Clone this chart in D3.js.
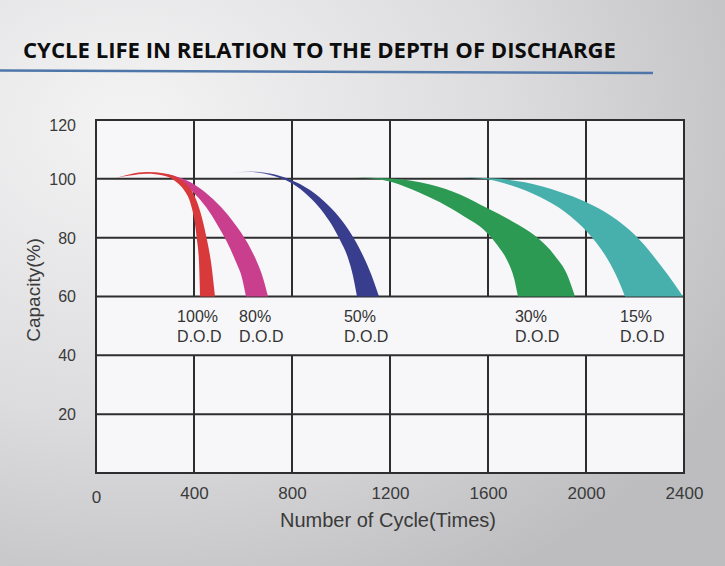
<!DOCTYPE html>
<html>
<head>
<meta charset="utf-8">
<script src="https://cdn.jsdelivr.net/npm/d3@7"></script>
<style>
  html, body { margin: 0; padding: 0; background: #e6e6e8; }
  svg { display: block; }
</style>
</head>
<body>
<svg id="chart" width="725" height="566"></svg>
<script>
// ---------- data ----------
const titleText = "CYCLE LIFE IN RELATION TO THE DEPTH OF DISCHARGE";
const xTitle = "Number of Cycle(Times)";
const yTitle = "Capacity(%)";
const cycleTicks = [0, 400, 800, 1200, 1600, 2000, 2400];
const capacityTicks = [20, 40, 60, 80, 100, 120];
const gridCapacity = [0, 20, 40, 60, 80, 100, 120];

const dodNames = ["100%", "80%", "50%", "30%", "15%"];
const dodLabelCycle = [331, 584, 1012, 1710, 2139];

// [cycles, capacity %] — outer (upper/right) and inner (lower/left) edges of each band
const dod100Outer = [[81.6,100.3],[138.8,101.6],[208.2,102.3],[281.6,101.8],[342.9,99.9],[383.7,96.9],[412.2,92.2],[432.7,86.7],[453.1,79.2],[469.4,71.7],[485.7,60]];
const dod100Inner = [[81.6,100.3],[138.8,101.1],[208.2,101.7],[273.5,101.1],[322.4,99.3],[359.2,96.2],[383.7,92.2],[400,86.7],[412.2,79.2],[420.4,71.7],[424.5,60]];

const dod80Outer = [[253.1,101.8],[322.4,101.0],[383.7,98.9],[449,95.2],[510.2,90.4],[567.3,84.6],[616.3,78.5],[657.1,71.7],[681.6,66.3],[702,60]];
const dod80Inner = [[253.1,101.8],[302,100.8],[351,98.6],[400,95.2],[449,90.4],[493.9,84.6],[534.7,78.5],[571.4,71.7],[595.9,66.3],[612.2,60]];

const dod50Outer = [[546.9,102.0],[628.6,102.5],[710.2,101.8],[791.8,99.8],[873.5,96.2],[946.9,91.1],[1008.2,85.3],[1061.2,78.5],[1102,71.7],[1130.6,65.9],[1155.1,60]];
const dod50Inner = [[546.9,102.0],[628.6,102.3],[710.2,101.3],[791.8,98.8],[853.1,95.2],[906.1,90.8],[955.1,85.3],[995.9,79.2],[1028.6,73.1],[1049,67.0],[1065.3,60]];

const dod30Outer = [[1004.1,100.5],[1200,100.1],[1363.3,98.1],[1485.7,94.7],[1600,89.9],[1698,85.6],[1800,80.1],[1873.5,73.8],[1922.4,67.6],[1955.1,60]];
const dod30Inner = [[1004.1,100.5],[1118.4,100.1],[1220.4,98.6],[1314.3,95.5],[1404.1,92.0],[1506.1,87.0],[1587.8,82.3],[1640.8,77.2],[1681.6,71.7],[1706.1,66.3],[1722.4,60]];

const dod15Outer = [[1428.6,100.5],[1608.2,100.2],[1751,98.8],[1893.9,95.5],[2000,92.1],[2106.1,87.2],[2200,80.9],[2269.4,74.4],[2334.7,67.3],[2395.9,60]];
const dod15Inner = [[1428.6,100.5],[1567.3,100.1],[1689.8,97.9],[1812.2,93.8],[1914.3,88.7],[2008.2,81.6],[2077.6,74.1],[2122.4,67.3],[2159.2,60]];

const bands = [
  { name: "dod80",  outer: dod80Outer,  inner: dod80Inner,  color: "#c93f8e", fade: false },
  { name: "dod100", outer: dod100Outer, inner: dod100Inner, color: "#d83a3b", fade: false },
  { name: "dod50",  outer: dod50Outer,  inner: dod50Inner,  color: "#383d8d", fade: true },
  { name: "dod30",  outer: dod30Outer,  inner: dod30Inner,  color: "#2c9a53", fade: true },
  { name: "dod15",  outer: dod15Outer,  inner: dod15Inner,  color: "#47b0ad", fade: false }
];

// ---------- drawing ----------
const svg = d3.select("#chart");
const W = 725, H = 566;
const margin = { left: 96, right: 41, top: 120, bottom: 93 };

const x = d3.scaleLinear().domain([0, 2400]).range([margin.left, W - margin.right]);
const y = d3.scaleLinear().domain([0, 120]).range([H - margin.bottom, margin.top]);

const defs = svg.append("defs");
const bg = defs.append("radialGradient").attr("id", "bg")
  .attr("cx", "18%").attr("cy", "22%").attr("r", "95%");
bg.append("stop").attr("offset", "0%").attr("stop-color", "#f4f4f5");
bg.append("stop").attr("offset", "55%").attr("stop-color", "#dcdcde");
bg.append("stop").attr("offset", "100%").attr("stop-color", "#bdbdc0");

svg.append("rect").attr("width", W).attr("height", H).attr("fill", "url(#bg)");

// title
svg.append("text")
  .attr("x", 23).attr("y", 58)
  .attr("textLength", 593).attr("lengthAdjust", "spacingAndGlyphs")
  .attr("font-family", "'Open Sans', 'Noto Sans', sans-serif")
  .attr("font-weight", "bold").attr("font-size", 21)
  .attr("fill", "#0d0d0d")
  .text(titleText);

svg.append("line")
  .attr("x1", 0).attr("y1", 70.5).attr("x2", 653).attr("y2", 73)
  .attr("stroke", "#4e76a9").attr("stroke-width", 2.5);

// plot background
svg.append("rect")
  .attr("x", x(0)).attr("y", y(120))
  .attr("width", x(2400) - x(0)).attr("height", y(0) - y(120))
  .attr("fill", "#f7f7fa");

// grid (inner verticals are interrupted in the label row between 40 and 60)
const grid = svg.append("g").attr("stroke", "#2e2e2e").attr("stroke-width", 2);
const edgeTicks = [0, 2400];
const innerTicks = cycleTicks.filter(d => d !== 0 && d !== 2400);
grid.selectAll("line.edge").data(edgeTicks).join("line").attr("class", "edge")
  .attr("x1", d => x(d)).attr("x2", d => x(d))
  .attr("y1", y(120) - 1).attr("y2", y(0) + 1);
grid.selectAll("line.vt").data(innerTicks).join("line").attr("class", "vt")
  .attr("x1", d => x(d)).attr("x2", d => x(d))
  .attr("y1", y(120)).attr("y2", y(60));
grid.selectAll("line.vb").data(innerTicks).join("line").attr("class", "vb")
  .attr("x1", d => x(d)).attr("x2", d => x(d))
  .attr("y1", y(40)).attr("y2", y(0));
grid.selectAll("line.h").data(gridCapacity).join("line").attr("class", "h")
  .attr("x1", x(0) - 1).attr("x2", x(2400) + 1)
  .attr("y1", d => y(d)).attr("y2", d => y(d));

// bands
const line = d3.line().x(d => x(d[0])).y(d => y(d[1])).curve(d3.curveMonotoneX);
bands.forEach(b => {
  let fill = b.color;
  if (b.fade) {
    const x0 = x(b.outer[0][0]);
    const g = defs.append("linearGradient").attr("id", "fade-" + b.name)
      .attr("gradientUnits", "userSpaceOnUse")
      .attr("x1", x0).attr("x2", x0 + 45).attr("y1", 0).attr("y2", 0);
    g.append("stop").attr("offset", "0%").attr("stop-color", b.color).attr("stop-opacity", 0.15);
    g.append("stop").attr("offset", "100%").attr("stop-color", b.color).attr("stop-opacity", 1);
    fill = "url(#fade-" + b.name + ")";
  }
  const p1 = line(b.outer);
  const p2 = line(b.inner.slice().reverse());
  svg.append("path").attr("d", p1 + p2.replace(/^M/, "L") + "Z").attr("fill", fill);
});

// axes (labels only)
const font = "'Liberation Sans', Arial, Helvetica, sans-serif";
const yAxis = svg.append("g").attr("transform", `translate(${x(0)},0)`)
  .call(d3.axisLeft(y).tickValues(capacityTicks).tickSize(0).tickPadding(20));
yAxis.select(".domain").remove();
yAxis.selectAll("text").attr("font-family", font).attr("font-size", 16).attr("fill", "#3a3a3a")
  .attr("dy", d => d === 120 ? "0.65em" : "0.34em");

const xAxis = svg.append("g").attr("transform", `translate(0,${y(0)})`)
  .call(d3.axisBottom(x).tickValues(cycleTicks).tickFormat(d3.format("d")).tickSize(0).tickPadding(14));
xAxis.select(".domain").remove();
xAxis.selectAll("text").attr("font-family", font).attr("font-size", 17).attr("fill", "#3a3a3a")
  .attr("dy", d => d === 0 ? "0.95em" : "0.71em");

// axis titles
svg.append("text")
  .attr("x", x(1200) - 2).attr("y", 527)
  .attr("text-anchor", "middle")
  .attr("font-family", font).attr("font-size", 20).attr("fill", "#3a3a3a")
  .text(xTitle);

svg.append("text")
  .attr("transform", "translate(40,290) rotate(-90)")
  .attr("text-anchor", "middle")
  .attr("font-family", font).attr("font-size", 19).attr("fill", "#3a3a3a")
  .text(yTitle);

// D.O.D labels
const lab = svg.append("g").attr("font-family", font).attr("font-size", 16).attr("fill", "#333");
lab.selectAll("text.p").data(dodNames).join("text").attr("class", "p")
  .attr("x", (d, i) => x(dodLabelCycle[i])).attr("y", y(51.5))
  .text(d => d);
lab.selectAll("text.d").data(dodNames).join("text").attr("class", "d")
  .attr("x", (d, i) => x(dodLabelCycle[i])).attr("y", y(44.6))
  .text("D.O.D");
</script>
</body>
</html>
